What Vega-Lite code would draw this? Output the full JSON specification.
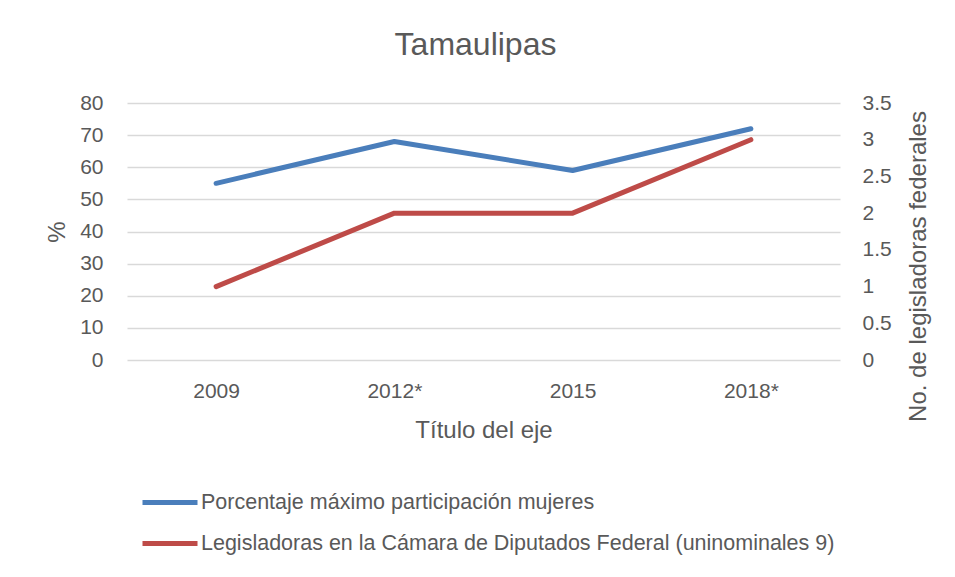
{
  "$schema": "https://vega.github.io/schema/vega-lite/v6.json",
  "autosize": {"type": "none"},
  "width": 713,
  "height": 257,
  "padding": {"left": 127, "top": 103, "right": 115, "bottom": 217},
  "background": "white",
  "config": {
    "font": "Liberation Sans",
    "view": {"stroke": null},
    "axis": {"labelColor": "#595959", "titleColor": "#595959", "labelFont": "Liberation Sans", "titleFont": "Liberation Sans", "titleFontWeight": "normal"}
  },
  "title": {
    "text": "Tamaulipas",
    "fontSize": 32,
    "fontWeight": "normal",
    "color": "#595959",
    "baseline": "alphabetic",
    "anchor": "middle",
    "frame": "group",
    "dx": -8,
    "dy": 31,
    "offset": 36
  },
  "data": {
    "values": [
      {"year": "2009", "series": "Porcentaje máximo participación mujeres", "value": 55},
      {"year": "2012*", "series": "Porcentaje máximo participación mujeres", "value": 68},
      {"year": "2015", "series": "Porcentaje máximo participación mujeres", "value": 59},
      {"year": "2018*", "series": "Porcentaje máximo participación mujeres", "value": 72},
      {"year": "2009", "series": "Legisladoras en la Cámara de Diputados Federal (uninominales 9)", "value": 1},
      {"year": "2012*", "series": "Legisladoras en la Cámara de Diputados Federal (uninominales 9)", "value": 2},
      {"year": "2015", "series": "Legisladoras en la Cámara de Diputados Federal (uninominales 9)", "value": 2},
      {"year": "2018*", "series": "Legisladoras en la Cámara de Diputados Federal (uninominales 9)", "value": 3}
    ]
  },
  "encoding": {
    "x": {
      "field": "year",
      "type": "ordinal",
      "sort": ["2009", "2012*", "2015", "2018*"],
      "scale": {"type": "point", "padding": 0.5},
      "axis": {
        "title": "Título del eje",
        "titleFontSize": 24,
        "titleBaseline": "alphabetic",
        "titleY": 77,
        "labelFontSize": 21,
        "labelAngle": 0,
        "labelPadding": 20,
        "ticks": false,
        "tickSize": 0,
        "domain": false,
        "grid": false
      }
    },
    "color": {
      "field": "series",
      "type": "nominal",
      "scale": {
        "domain": ["Porcentaje máximo participación mujeres", "Legisladoras en la Cámara de Diputados Federal (uninominales 9)"],
        "range": ["#4a7ebb", "#be4b48"]
      },
      "legend": {
        "title": null,
        "orient": "none",
        "direction": "vertical",
        "legendX": 13,
        "legendY": 369.5,
        "padding": 0,
        "symbolType": "stroke",
        "symbolSize": 3025,
        "symbolStrokeWidth": 5,
        "labelFontSize": 21.5,
        "labelFont": "Liberation Sans",
        "labelColor": "#595959",
        "labelOffset": 1,
        "labelLimit": 800,
        "rowPadding": -10
      }
    }
  },
  "layer": [
    {
      "transform": [{"filter": "datum.series === 'Porcentaje máximo participación mujeres'"}],
      "mark": {"type": "line", "strokeWidth": 5, "strokeCap": "round", "strokeJoin": "round"},
      "encoding": {
        "y": {
          "field": "value",
          "type": "quantitative",
          "scale": {"domain": [0, 80]},
          "axis": {
            "title": "%",
            "titleFontSize": 24,
            "titleAngle": 270,
            "titleX": -70,
            "titleY": 128.5,
            "titleAlign": "center",
            "titleBaseline": "middle",
            "values": [0, 10, 20, 30, 40, 50, 60, 70, 80],
            "labelFontSize": 21,
            "labelPadding": 24,
            "ticks": false,
            "tickSize": 0,
            "domain": false,
            "grid": true,
            "gridColor": "#d9d9d9",
            "gridWidth": 1.3
          }
        }
      }
    },
    {
      "transform": [{"filter": "datum.series !== 'Porcentaje máximo participación mujeres'"}],
      "mark": {"type": "line", "strokeWidth": 5, "strokeCap": "round", "strokeJoin": "round"},
      "encoding": {
        "y": {
          "field": "value",
          "type": "quantitative",
          "scale": {"domain": [0, 3.5]},
          "axis": {
            "orient": "right",
            "title": "No. de legisladoras federales",
            "titleFontSize": 24,
            "titleAngle": 270,
            "titleX": 78,
            "titleY": 163,
            "titleAlign": "center",
            "titleBaseline": "middle",
            "values": [0, 0.5, 1, 1.5, 2, 2.5, 3, 3.5],
            "format": "~g",
            "labelFontSize": 21,
            "labelPadding": 22,
            "ticks": false,
            "tickSize": 0,
            "domain": false,
            "grid": false
          }
        }
      }
    }
  ],
  "resolve": {"scale": {"y": "independent"}}
}
